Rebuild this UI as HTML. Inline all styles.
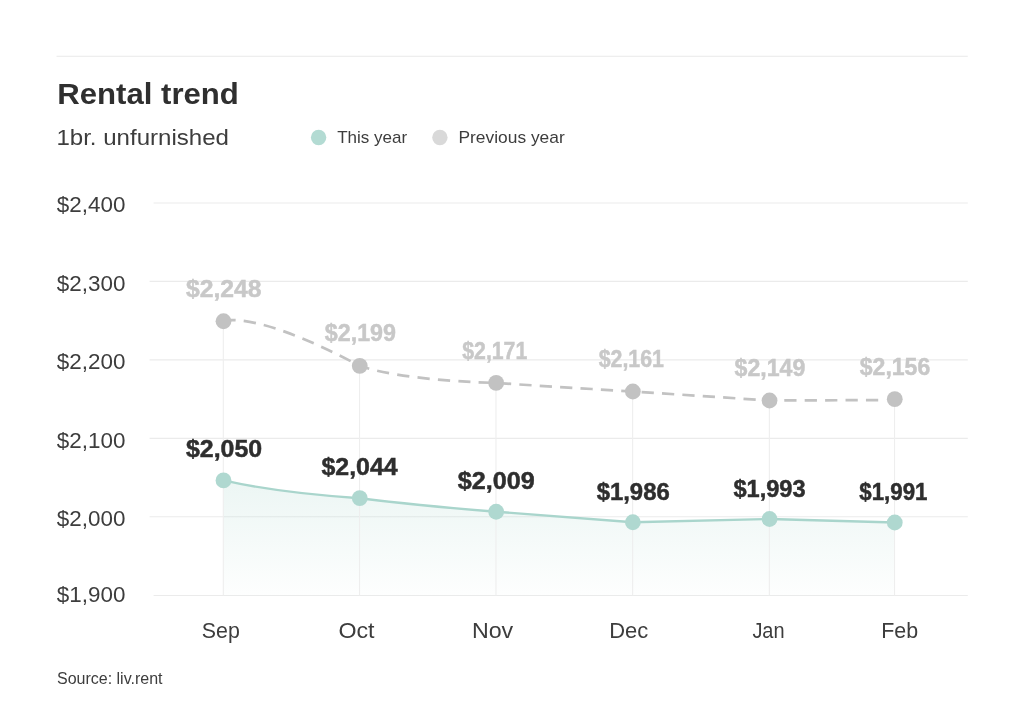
<!DOCTYPE html>
<html lang="en">
<head>
<meta charset="utf-8">
<title>Rental trend</title>
<style>
html,body{margin:0;padding:0;background:#fff;}
body{width:1024px;height:717px;overflow:hidden;}
svg{display:block;will-change:transform;}
text{font-family:"Liberation Sans",sans-serif;}
.t{font-weight:700;fill:#2f2f2f;}
.r{fill:#3d3d3d;}
.pl{font-weight:700;fill:#c8c8c8;stroke:#c8c8c8;stroke-width:0.5;}
.tl{font-weight:700;fill:#2e2e2e;stroke:#2e2e2e;stroke-width:0.5;}
</style>
</head>
<body>
<svg width="1024" height="717" viewBox="0 0 1024 717">
<defs>
<linearGradient id="g" x1="0" y1="480" x2="0" y2="595.5" gradientUnits="userSpaceOnUse">
<stop offset="0" stop-color="#aed8cf" stop-opacity="0.235"/>
<stop offset="1" stop-color="#aed8cf" stop-opacity="0.02"/>
</linearGradient>
</defs>
<rect width="1024" height="717" fill="#ffffff"/>
<line x1="56.5" y1="56.3" x2="967.8" y2="56.3" stroke="#e9e9e9" stroke-width="1.1"/>
<text class="t" x="57.3" y="104" font-size="29.8" textLength="181.6" lengthAdjust="spacingAndGlyphs">Rental trend</text>
<text class="r" x="56.4" y="144.7" font-size="22.3" textLength="172.6" lengthAdjust="spacingAndGlyphs">1br. unfurnished</text>
<circle cx="318.6" cy="137.5" r="7.7" fill="#b3dbd3"/>
<text class="r" x="337.2" y="143.3" font-size="17" textLength="70" lengthAdjust="spacingAndGlyphs">This year</text>
<circle cx="439.9" cy="137.5" r="7.7" fill="#d9d9d9"/>
<text class="r" x="458.5" y="143.3" font-size="17" textLength="106.2" lengthAdjust="spacingAndGlyphs">Previous year</text>

<g stroke="#ebebeb" stroke-width="1.1">
<line x1="153.6" y1="203.0" x2="967.8" y2="203.0"/>
<line x1="149.6" y1="281.4" x2="967.8" y2="281.4"/>
<line x1="149.6" y1="359.9" x2="967.8" y2="359.9"/>
<line x1="149.6" y1="438.4" x2="967.8" y2="438.4"/>
<line x1="149.6" y1="516.8" x2="967.8" y2="516.8"/>
<line x1="153.6" y1="595.5" x2="967.8" y2="595.5"/>
</g>
<text class="r" x="56.8" y="211.8" font-size="22" textLength="68.6" lengthAdjust="spacingAndGlyphs">$2,400</text>
<text class="r" x="56.8" y="290.8" font-size="22" textLength="68.6" lengthAdjust="spacingAndGlyphs">$2,300</text>
<text class="r" x="56.8" y="369.2" font-size="22" textLength="68.6" lengthAdjust="spacingAndGlyphs">$2,200</text>
<text class="r" x="56.8" y="448.0" font-size="22" textLength="68.6" lengthAdjust="spacingAndGlyphs">$2,100</text>
<text class="r" x="56.8" y="525.6" font-size="22" textLength="68.6" lengthAdjust="spacingAndGlyphs">$2,000</text>
<text class="r" x="56.8" y="601.8" font-size="22" textLength="68.6" lengthAdjust="spacingAndGlyphs">$1,900</text>
<path d="M223.50,480.40 C268.92,490.62 314.33,495.25 359.75,498.20 C405.22,503.88 450.68,508.11 496.15,511.75 C541.72,515.49 587.28,519.06 632.85,522.25 L769.55,519.00 L894.75,522.50 L894.75,595.5 L223.50,595.5 Z" fill="url(#g)"/>
<g stroke="#eeeeee" stroke-width="1.1">
<line x1="223.30" y1="321.2" x2="223.30" y2="595.5"/>
<line x1="359.55" y1="365.8" x2="359.55" y2="595.5"/>
<line x1="495.95" y1="382.9" x2="495.95" y2="595.5"/>
<line x1="632.65" y1="391.5" x2="632.65" y2="595.5"/>
<line x1="769.35" y1="400.5" x2="769.35" y2="595.5"/>
<line x1="894.55" y1="399.2" x2="894.55" y2="595.5"/>
</g>
<path d="M223.50,320.45 C260.26,316.4 319.2,344.5 359.75,365.80 C397.15,379.15 474.88,382.53 496.15,382.90 C541.72,386.09 587.28,388.67 632.85,391.50 C678.42,394.51 723.98,397.49 769.55,400.50 L885.75,400.05" fill="none" stroke="#c2c2c2" stroke-width="2.7" stroke-dasharray="12.25 8.17"/>
<path d="M223.50,480.40 C268.92,490.62 314.33,495.25 359.75,498.20 C405.22,503.88 450.68,508.11 496.15,511.75 C541.72,515.49 587.28,519.06 632.85,522.25 L769.55,519.00 L894.75,522.50" fill="none" stroke="#a9d5cc" stroke-width="2.4" stroke-linejoin="round"/>
<circle cx="223.50" cy="321.25" r="7.9" fill="#c2c2c2"/>
<circle cx="359.75" cy="365.80" r="7.9" fill="#c2c2c2"/>
<circle cx="496.15" cy="382.90" r="7.9" fill="#c2c2c2"/>
<circle cx="632.85" cy="391.50" r="7.9" fill="#c2c2c2"/>
<circle cx="769.55" cy="400.50" r="7.9" fill="#c2c2c2"/>
<circle cx="894.75" cy="399.20" r="7.9" fill="#c2c2c2"/>
<circle cx="223.50" cy="480.40" r="7.9" fill="#afd8d0"/>
<circle cx="359.75" cy="498.20" r="7.9" fill="#afd8d0"/>
<circle cx="496.15" cy="511.75" r="7.9" fill="#afd8d0"/>
<circle cx="632.85" cy="522.25" r="7.9" fill="#afd8d0"/>
<circle cx="769.55" cy="519.00" r="7.9" fill="#afd8d0"/>
<circle cx="894.75" cy="522.50" r="7.9" fill="#afd8d0"/>
<text class="pl" x="186.00" y="296.9" font-size="24.5" textLength="75.5" lengthAdjust="spacingAndGlyphs">$2,248</text>
<text class="pl" x="324.77" y="341.1" font-size="24.5" textLength="71.2" lengthAdjust="spacingAndGlyphs">$2,199</text>
<text class="pl" x="462.25" y="359.2" font-size="24.5" textLength="65.0" lengthAdjust="spacingAndGlyphs">$2,171</text>
<text class="pl" x="598.65" y="366.6" font-size="24.5" textLength="65.3" lengthAdjust="spacingAndGlyphs">$2,161</text>
<text class="pl" x="734.52" y="376.4" font-size="24.5" textLength="70.8" lengthAdjust="spacingAndGlyphs">$2,149</text>
<text class="pl" x="859.75" y="374.9" font-size="24.5" textLength="70.5" lengthAdjust="spacingAndGlyphs">$2,156</text>
<text class="tl" x="185.97" y="456.9" font-size="24.5" textLength="76.2" lengthAdjust="spacingAndGlyphs">$2,050</text>
<text class="tl" x="321.48" y="474.9" font-size="24.5" textLength="76.2" lengthAdjust="spacingAndGlyphs">$2,044</text>
<text class="tl" x="457.75" y="489.2" font-size="24.5" textLength="77.0" lengthAdjust="spacingAndGlyphs">$2,009</text>
<text class="tl" x="596.65" y="500.1" font-size="24.5" textLength="73.1" lengthAdjust="spacingAndGlyphs">$1,986</text>
<text class="tl" x="733.40" y="496.6" font-size="24.5" textLength="72.2" lengthAdjust="spacingAndGlyphs">$1,993</text>
<text class="tl" x="859.35" y="500.2" font-size="24.5" textLength="68.1" lengthAdjust="spacingAndGlyphs">$1,991</text>
<text class="r" x="201.8" y="638.3" font-size="22.2" textLength="38.0" lengthAdjust="spacingAndGlyphs">Sep</text>
<text class="r" x="338.4" y="638.3" font-size="22.2" textLength="36.1" lengthAdjust="spacingAndGlyphs">Oct</text>
<text class="r" x="471.9" y="638.3" font-size="22.2" textLength="41.3" lengthAdjust="spacingAndGlyphs">Nov</text>
<text class="r" x="609.2" y="638.3" font-size="22.2" textLength="39.1" lengthAdjust="spacingAndGlyphs">Dec</text>
<text class="r" x="752.4" y="638.3" font-size="22.2" textLength="32.2" lengthAdjust="spacingAndGlyphs">Jan</text>
<text class="r" x="881.2" y="638.3" font-size="22.2" textLength="36.9" lengthAdjust="spacingAndGlyphs">Feb</text>
<text class="r" x="57" y="684.3" font-size="16" textLength="105.5" lengthAdjust="spacingAndGlyphs">Source: liv.rent</text>
</svg>
</body>
</html>
